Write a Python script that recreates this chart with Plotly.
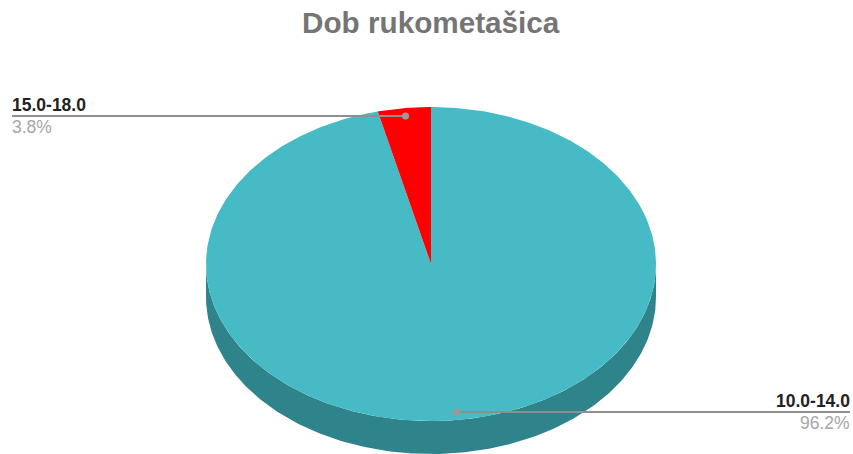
import numpy as np
import plotly.graph_objects as go

title = "Dob rukometašica"
categories = ["10.0-14.0", "15.0-18.0"]
percent_labels = ["96.2%", "3.8%"]
values = [96.2, 3.8]

colors = ["#46BBC6", "#FF0000"]
side_color = "#2F848C"
W, H = 853, 454
cx, cy, rx, ry, depth = 431, 264, 225, 157, 33


def ell(theta):
    """Clockwise angle from the top, in radians, to page coordinates."""
    return cx + rx * np.sin(theta), cy - ry * np.cos(theta)


total = sum(values)
fractions = [v / total for v in values]
fig = go.Figure()

# side wall
t = np.linspace(np.pi / 2, 3 * np.pi / 2, 200)
x, y = ell(t)
fig.add_trace(go.Scatter(
    x=np.r_[x, x[::-1]], y=np.r_[y + depth, y[::-1]],
    mode="lines", fill="toself", fillcolor=side_color,
    line=dict(width=0), hoverinfo="skip", showlegend=False))

# slices, first one clockwise from the top
start = 0.0
mids = []
for frac, color, name in zip(fractions, colors, categories):
    stop = start + frac * 2 * np.pi
    t = np.linspace(start, stop, 400)
    x, y = ell(t)
    fig.add_trace(go.Scatter(
        x=np.r_[cx, x, cx], y=np.r_[cy, y, cy],
        mode="lines", fill="toself", fillcolor=color,
        line=dict(width=0), name=name, showlegend=False))
    mids.append((start + stop) / 2)
    start = stop

# leaders: end dots inside each slice, lines out to the label edge
label_layout = [
    dict(i=1, dot_r=0.95, edge=12, anchor="left"),
    dict(i=0, dot_r=0.95, edge=850, anchor="right"),
]
for item in label_layout:
    i = item["i"]
    lx = cx + item["dot_r"] * rx * np.sin(mids[i])
    ly = cy - item["dot_r"] * ry * np.cos(mids[i])
    fig.add_trace(go.Scatter(
        x=[item["edge"], lx], y=[ly, ly], mode="lines",
        line=dict(color="#8F8F8F", width=2), hoverinfo="skip", showlegend=False))
    fig.add_trace(go.Scatter(
        x=[lx], y=[ly], mode="markers",
        marker=dict(color="#9A9A9A", size=7), hoverinfo="skip", showlegend=False))
    fig.add_annotation(x=item["edge"], y=ly - 1, text=f"<b>{categories[i]}</b>",
                       xanchor=item["anchor"], yanchor="bottom", showarrow=False,
                       font=dict(family="Liberation Sans", size=17.5, color="#222222"),
                       borderpad=0, borderwidth=0)
    fig.add_annotation(x=item["edge"], y=ly + 1, text=percent_labels[i],
                       xanchor=item["anchor"], yanchor="top", showarrow=False,
                       font=dict(family="Liberation Sans", size=17.5, color="#A6A6A6"),
                       borderpad=0, borderwidth=0)

fig.add_annotation(x=431, y=22, text=f"<b>{title}</b>", showarrow=False,
                   font=dict(family="Liberation Sans", size=29.7, color="#757575"))

fig.update_layout(
    width=W, height=H, margin=dict(l=0, r=0, t=0, b=0),
    paper_bgcolor="white", plot_bgcolor="white", showlegend=False,
    xaxis=dict(range=[0, W], visible=False, fixedrange=True),
    yaxis=dict(range=[H, 0], visible=False, fixedrange=True),
)
fig.write_html("out.html", config=dict(displayModeBar=False),
               post_script="document.body.style.margin='0';document.body.style.overflow='hidden';")
